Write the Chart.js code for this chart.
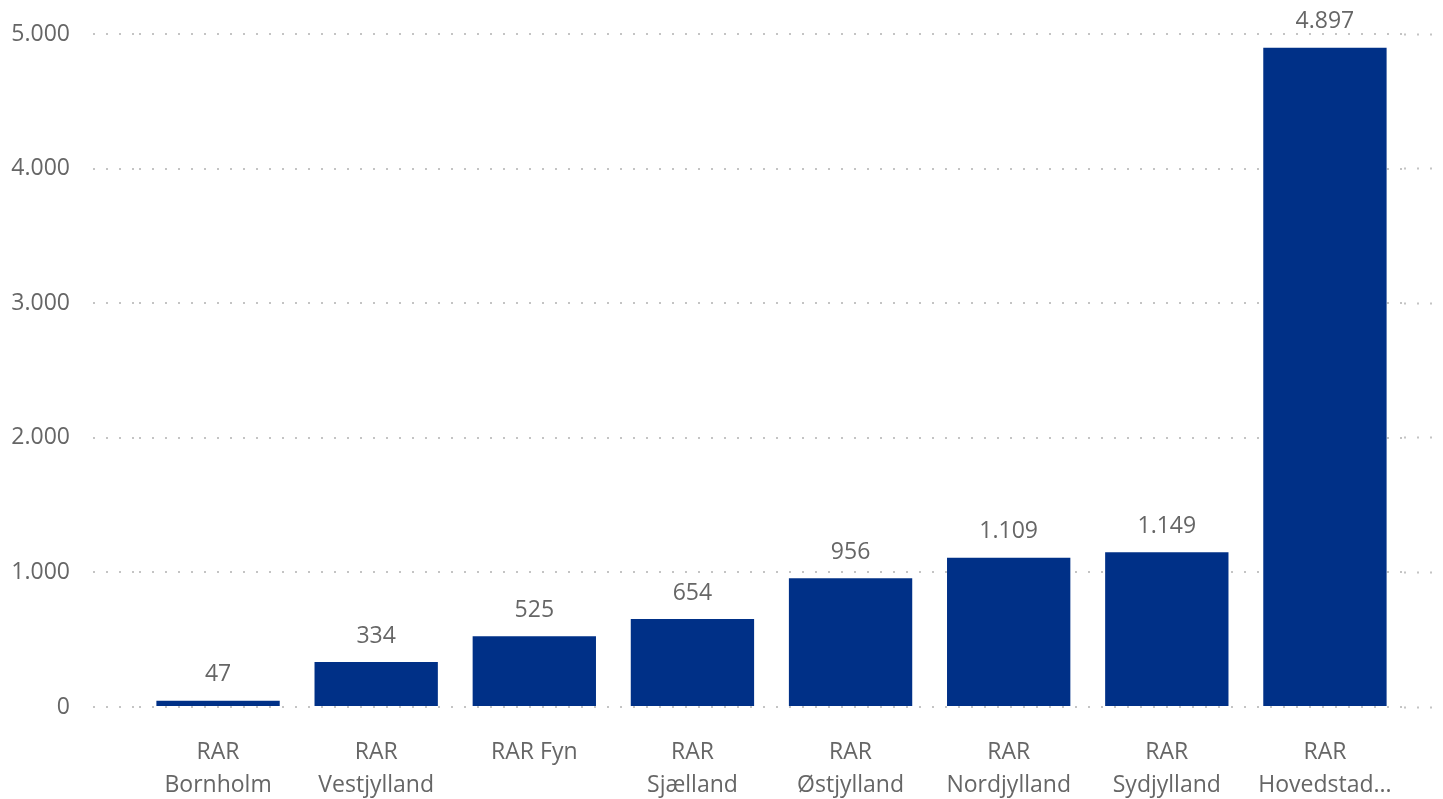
<!DOCTYPE html>
<html>
<head>
<meta charset="utf-8">
<script src="https://cdn.jsdelivr.net/npm/chart.js@4/dist/chart.umd.min.js"></script>
<style>
  html, body { margin: 0; padding: 0; background: #ffffff; }
  #wrap { width: 1443px; height: 799px; }
</style>
</head>
<body>
<div id="wrap"><canvas id="c" width="1443" height="799"></canvas></div>
<script>
const categories = [
  ["RAR", "Bornholm"],
  ["RAR", "Vestjylland"],
  ["RAR Fyn"],
  ["RAR", "Sjælland"],
  ["RAR", "Østjylland"],
  ["RAR", "Nordjylland"],
  ["RAR", "Sydjylland"],
  ["RAR", "Hovedstad..."]
];
const values = [47, 334, 525, 654, 956, 1109, 1149, 4897];
const yTicks = [0, 1000, 2000, 3000, 4000, 5000];

const FONT = "'Segoe UI', 'Open Sans', 'Noto Sans', sans-serif";
const TEXT = "#666666";
const GRID = "#c4c4c4";
const DASH = [2, 11];

function fmt(v) {
  return String(Math.round(v)).replace(/\B(?=(\d{3})+(?!\d))/g, ".");
}

const labelPlugin = {
  id: 'valueLabels',
  afterDatasetsDraw(chart) {
    const ctx = chart.ctx;
    const meta = chart.getDatasetMeta(0);
    ctx.save();
    ctx.font = "23px " + FONT;
    ctx.fillStyle = TEXT;
    ctx.textAlign = 'center';
    ctx.textBaseline = 'middle';
    meta.data.forEach((bar, i) => {
      ctx.fillText(fmt(values[i]), bar.x, bar.y - 26);
    });
    ctx.restore();
  }
};

new Chart(document.getElementById('c'), {
  type: 'bar',
  data: {
    labels: categories,
    datasets: [{
      data: values,
      backgroundColor: '#003087',
      borderWidth: 0,
      barPercentage: 0.78,
      categoryPercentage: 1.0
    }]
  },
  options: {
    responsive: false,
    animation: false,
    layout: { padding: { top: 34, left: 0, right: 0, bottom: 0 } },
    plugins: { legend: { display: false }, tooltip: { enabled: false } },
    scales: {
      x: {
        grid: { display: false },
        border: { display: false },
        ticks: {
          color: TEXT,
          font: { size: 23, family: FONT, lineHeight: 1.42 },
          padding: 21,
          maxRotation: 0,
          autoSkip: false
        },
        afterFit(scale) { scale.height = 92; }
      },
      y: {
        min: 0,
        max: 5000,
        afterBuildTicks(scale) { scale.ticks = yTicks.map(v => ({ value: v })); },
        border: { display: false, dash: DASH },
        grid: {
          color: GRID,
          lineWidth: 2,
          drawTicks: true,
          tickLength: 46,
          tickColor: GRID,
          tickWidth: 2,
          tickBorderDash: DASH
        },
        ticks: {
          color: TEXT,
          font: { size: 23, family: FONT },
          padding: 23,
          callback: (v) => fmt(v)
        },
        afterFit(scale) { scale.width = 139; scale.paddingTop = 0; scale.paddingBottom = 0; }
      },
      y2: {
        position: 'right',
        min: 0,
        max: 5000,
        afterBuildTicks(scale) { scale.ticks = yTicks.map(v => ({ value: v })); },
        border: { display: false, dash: DASH },
        grid: {
          drawOnChartArea: false,
          drawTicks: true,
          tickLength: 36,
          tickColor: GRID,
          tickWidth: 2,
          tickBorderDash: DASH
        },
        ticks: { display: false },
        afterFit(scale) { scale.width = 39; scale.paddingTop = 0; scale.paddingBottom = 0; }
      }
    }
  },
  plugins: [labelPlugin]
});
</script>
</body>
</html>
